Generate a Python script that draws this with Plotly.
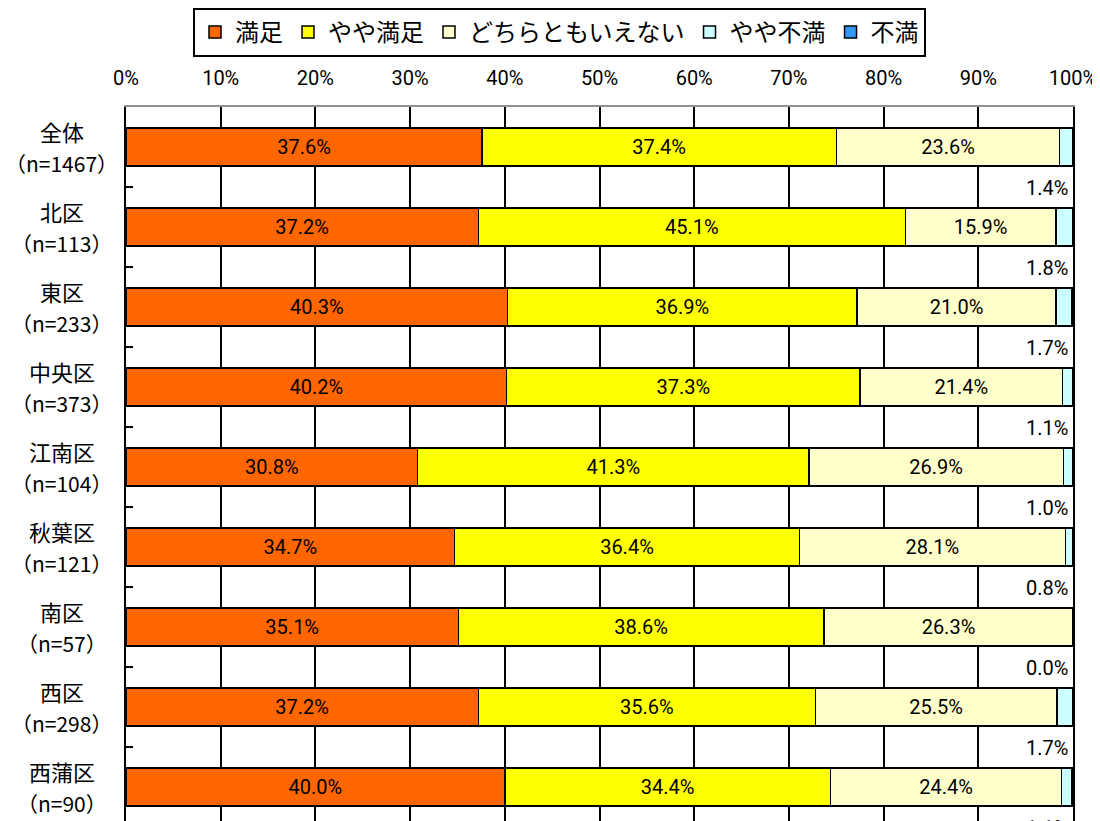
import plotly.graph_objects as go

categories = ["全体", "北区", "東区", "中央区", "江南区", "秋葉区", "南区", "西区", "西蒲区"]
counts = ["（n=1467）", "（n=113）", "（n=233）", "（n=373）", "（n=104）", "（n=121）", "（n=57）", "（n=298）", "（n=90）"]
series_names = ["満足", "やや満足", "どちらともいえない", "やや不満", "不満"]
manzoku = [37.6, 37.2, 40.3, 40.2, 30.8, 34.7, 35.1, 37.2, 40.0]
yaya_manzoku = [37.4, 45.1, 36.9, 37.3, 41.3, 36.4, 38.6, 35.6, 34.4]
dochira = [23.6, 15.9, 21.0, 21.4, 26.9, 28.1, 26.3, 25.5, 24.4]
yaya_fuman = [1.4, 1.8, 1.7, 1.1, 1.0, 0.8, 0.0, 1.7, 1.1]
fuman = [0.0, 0.0, 0.0, 0.0, 0.0, 0.0, 0.0, 0.0, 0.0]
x_ticks = [0, 10, 20, 30, 40, 50, 60, 70, 80, 90, 100]

colors = ["#FF6600", "#FFFF00", "#FFFFCC", "#CCFFFF", "#3399FF"]
NUM_FONT = "Roboto, Noto Sans CJK JP, sans-serif"
JP_FONT = "Noto Sans CJK JP, sans-serif"

series = [manzoku, yaya_manzoku, dochira, yaya_fuman, fuman]
fig = go.Figure()
for i, (name, vals) in enumerate(zip(series_names, series)):
    show_text = i < 3
    fig.add_trace(go.Bar(
        y=categories, x=vals, name=name, orientation="h",
        marker=dict(color=colors[i], line=dict(color="black", width=1.5)),
        texttemplate="%{x:.1f}%" if show_text else None,
        textposition="inside" if show_text else "none",
        insidetextanchor="middle",
        textangle=0,
        textfont=dict(family=NUM_FONT, size=20, color="black"),
        hoverinfo="skip",
    ))

annotations = []
for i, cat in enumerate(categories):
    annotations.append(dict(x=-0.0676, xref="paper", y=cat, yref="y", text=cat,
                            showarrow=False, xanchor="center", yanchor="middle", yshift=16,
                            font=dict(family=JP_FONT, size=22, color="black")))
    annotations.append(dict(x=-0.0676, xref="paper", y=cat, yref="y", text=counts[i],
                            showarrow=False, xanchor="center", yanchor="middle", yshift=-16,
                            font=dict(family=JP_FONT, size=21, color="black")))
    rest = yaya_fuman[i] + fuman[i]
    annotations.append(dict(x=100, xref="x", y=i + 0.4, yref="y", text=f"{rest:.1f}%",
                            showarrow=False, xanchor="right", yanchor="middle",
                            xshift=-3, yshift=-9,
                            font=dict(family=NUM_FONT, size=20, color="black")))

fig.update_layout(
    width=1100, height=813,
    margin=dict(l=118, r=35, t=99, b=0),
    paper_bgcolor="white", plot_bgcolor="white",
    barmode="stack", bargap=0.525,
    showlegend=True,
    legend=dict(orientation="h", xref="container", yref="container",
                x=185 / 1100, y=1.0, xanchor="left", yanchor="top",
                bordercolor="black", borderwidth=2,
                font=dict(family=JP_FONT, size=24, color="black"),
                traceorder="normal", itemclick=False),
    annotations=annotations,
    xaxis=dict(side="top", range=[0, 100], tickvals=x_ticks,
               ticktext=[f"{v}%" for v in x_ticks],
               showgrid=True, gridcolor="black", gridwidth=1.5,
               showline=True, linecolor="#909090", linewidth=2,
               ticks="", ticklabelstandoff=12, zeroline=False,
               ticklabeloverflow="allow",
               tickfont=dict(family=NUM_FONT, size=20, color="black")),
    yaxis=dict(type="category", categoryorder="array", categoryarray=categories,
               range=[8.425, -0.5], showticklabels=False,
               tickson="boundaries", ticks="inside", ticklen=7, tickwidth=1.5, tickcolor="black",
               showgrid=False, showline=True, linecolor="black", linewidth=2, mirror=True,
               zeroline=False),
)

fig.write_html("out.html",
               post_script="document.documentElement.style.overflow='hidden';document.body.style.overflow='hidden';")
